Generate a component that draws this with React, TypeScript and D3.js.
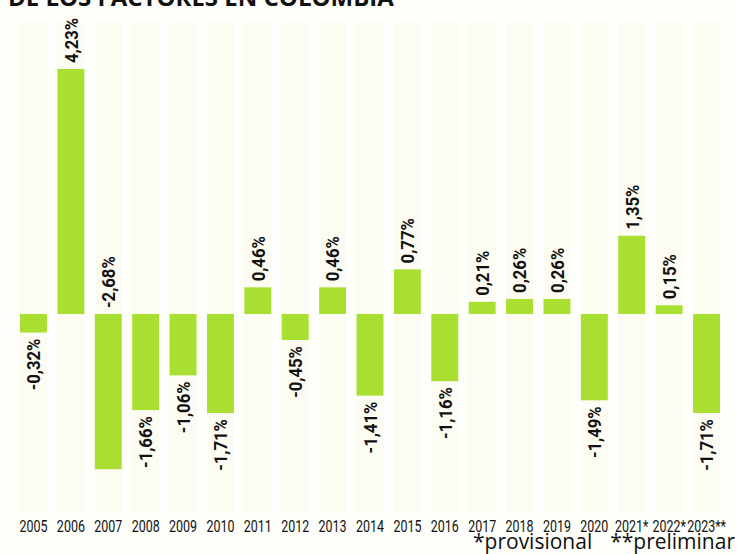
import { format, scaleBand, scaleLinear } from 'd3';

const years = ['2005', '2006', '2007', '2008', '2009', '2010', '2011', '2012', '2013', '2014', '2015', '2016', '2017', '2018', '2019', '2020', '2021*', '2022*', '2023**'];
const values = [-0.32, 4.23, -2.68, -1.66, -1.06, -1.71, 0.46, -0.45, 0.46, -1.41, 0.77, -1.16, 0.21, 0.26, 0.26, -1.49, 1.35, 0.15, -1.71];
const title = 'DE LOS FACTORES EN COLOMBIA';
const notes = ['*provisional', '**preliminar'];

const width = 737;
const height = 554;
const font = 'Roboto, "Open Sans", sans-serif';
const barColor = '#a8df30';

const fmt = (v: number) => format('.2f')(v).replace('.', ',').replace('−', '-') + '%';

export default function App() {
  const x = scaleBand<string>()
    .domain(years)
    .range([14.8, 725.2])
    .paddingInner(0.28)
    .paddingOuter(0.14);

  const y = scaleLinear()
    .domain([-2.68, 4.23])
    .range([469.2, 69]);

  const zero = y(0);

  return (
    <svg
      width={width}
      height={height}
      viewBox={`0 0 ${width} ${height}`}
      style={{ position: 'absolute', left: 0, top: 0, background: '#fefefb' }}
    >
      {/* faint newsprint column bands */}
      {years.map(year => (
        <rect key={`band-${year}`} x={x(year)} y={22} width={x.bandwidth()} height={490} fill="#f9f9ea" opacity={0.5} />
      ))}

      <text x={8} y={6} fontFamily='"Open Sans", sans-serif' fontWeight={700} fontSize={24} fill="#111">{title}</text>

      {years.map((year, i) => {
        const v = values[i];
        const bx = x(year) ?? 0;
        const cx = bx + x.bandwidth() / 2;
        const top = y(Math.max(0, v));
        const bottom = y(Math.min(0, v));
        // long negative bars get their label above the zero line
        const above = v >= 0 || bottom > 460;
        const ly = v >= 0 ? top - 6 : above ? zero - 6 : bottom + 6;
        return (
          <g key={year}>
            <rect x={bx} y={top} width={x.bandwidth()} height={bottom - top} fill={barColor} />
            <text
              transform={`translate(${cx + 6.8},${ly}) rotate(-90) scale(0.88,1)`}
              textAnchor={above ? 'start' : 'end'}
              fontFamily={font}
              fontWeight={700}
              fontSize={19}
              fill="#111"
            >
              {fmt(v)}
            </text>
            <text
              transform={`translate(${cx},532) scale(0.78,1)`}
              textAnchor="middle"
              fontFamily={font}
              fontSize={16}
              fill="#111"
            >
              {year}
            </text>
          </g>
        );
      })}

      <text x={473} y={549} fontFamily='"Open Sans", sans-serif' fontSize={21} fill="#111">{notes[0]}</text>
      <text x={735} y={549} textAnchor="end" fontFamily='"Open Sans", sans-serif' fontSize={21} fill="#111">{notes[1]}</text>
    </svg>
  );
}
